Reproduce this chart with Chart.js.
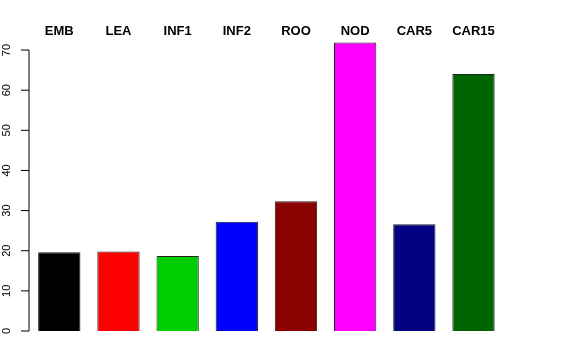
<!DOCTYPE html>
<html>
<head>
<meta charset="utf-8">
<script src="https://cdn.jsdelivr.net/npm/chart.js@4/dist/chart.umd.min.js"></script>
<style>
  html, body { margin: 0; padding: 0; background: #fff; }
  #wrap { width: 576px; height: 360px; }
</style>
</head>
<body>
<div id="wrap"><canvas id="bars" width="576" height="360"></canvas></div>
<script>
// Tissue categories and their values
const tissues = ['EMB', 'LEA', 'INF1', 'INF2', 'ROO', 'NOD', 'CAR5', 'CAR15'];
const values = [19.6, 19.8, 18.7, 27.2, 32.3, 71.9, 26.6, 64.0];
const barColors = ['#000000', '#ff0000', '#00cd00', '#0000ff', '#8b0000', '#ff00ff', '#000080', '#006400'];
const yTicks = [0, 10, 20, 30, 40, 50, 60, 70];

// Draw an R-style left axis: line from first to last tick, rotated labels
const rAxis = {
    id: 'rAxis',
    afterDraw(chart) {
        const ctx = chart.ctx;
        const y = chart.scales.y;
        const xLine = 29;
        ctx.save();
        ctx.strokeStyle = '#000';
        ctx.lineWidth = 1;
        ctx.beginPath();
        ctx.moveTo(xLine, y.getPixelForValue(yTicks[0]));
        ctx.lineTo(xLine, y.getPixelForValue(yTicks[yTicks.length - 1]));
        for (const t of yTicks) {
            const py = y.getPixelForValue(t);
            ctx.moveTo(xLine, py);
            ctx.lineTo(xLine - 8, py);
        }
        ctx.stroke();
        ctx.fillStyle = '#000';
        ctx.font = '11px "Liberation Sans", Arial, sans-serif';
        ctx.textAlign = 'center';
        ctx.textBaseline = 'alphabetic';
        for (const t of yTicks) {
            ctx.save();
            ctx.translate(9.5, y.getPixelForValue(t));
            ctx.rotate(-Math.PI / 2);
            ctx.fillText(String(t), 0, 0);
            ctx.restore();
        }
        ctx.restore();
    }
};

const ctx = document.getElementById('bars').getContext('2d');
const chart = new Chart(ctx, {
    type: 'bar',
    data: {
        labels: tissues,
        datasets: [
            {
                data: values,
                backgroundColor: barColors,
                borderColor: '#222',
                borderWidth: 1,
                barPercentage: 0.715,
                categoryPercentage: 1.0
            }
        ]
    },
    options: {
        responsive: false,
        animation: false,
        devicePixelRatio: 1,
        layout: {
            padding: { left: 29.7, right: 72.9, top: 0, bottom: 29 }
        },
        plugins: {
            legend: { display: false },
            tooltip: { enabled: false }
        },
        scales: {
            x: {
                position: 'top',
                grid: { display: false },
                border: { display: false },
                ticks: {
                    color: '#000',
                    padding: -7,
                    autoSkip: false,
                    maxRotation: 0,
                    minRotation: 0,
                    font: { family: '"Liberation Sans", Arial, sans-serif', size: 13, weight: 'bold' }
                },
                afterFit: (scale) => { scale.height = 40; }
            },
            y: {
                display: false,
                min: 0,
                max: 72.5
            }
        }
    },
    plugins: [rAxis]
});
</script>
</body>
</html>
